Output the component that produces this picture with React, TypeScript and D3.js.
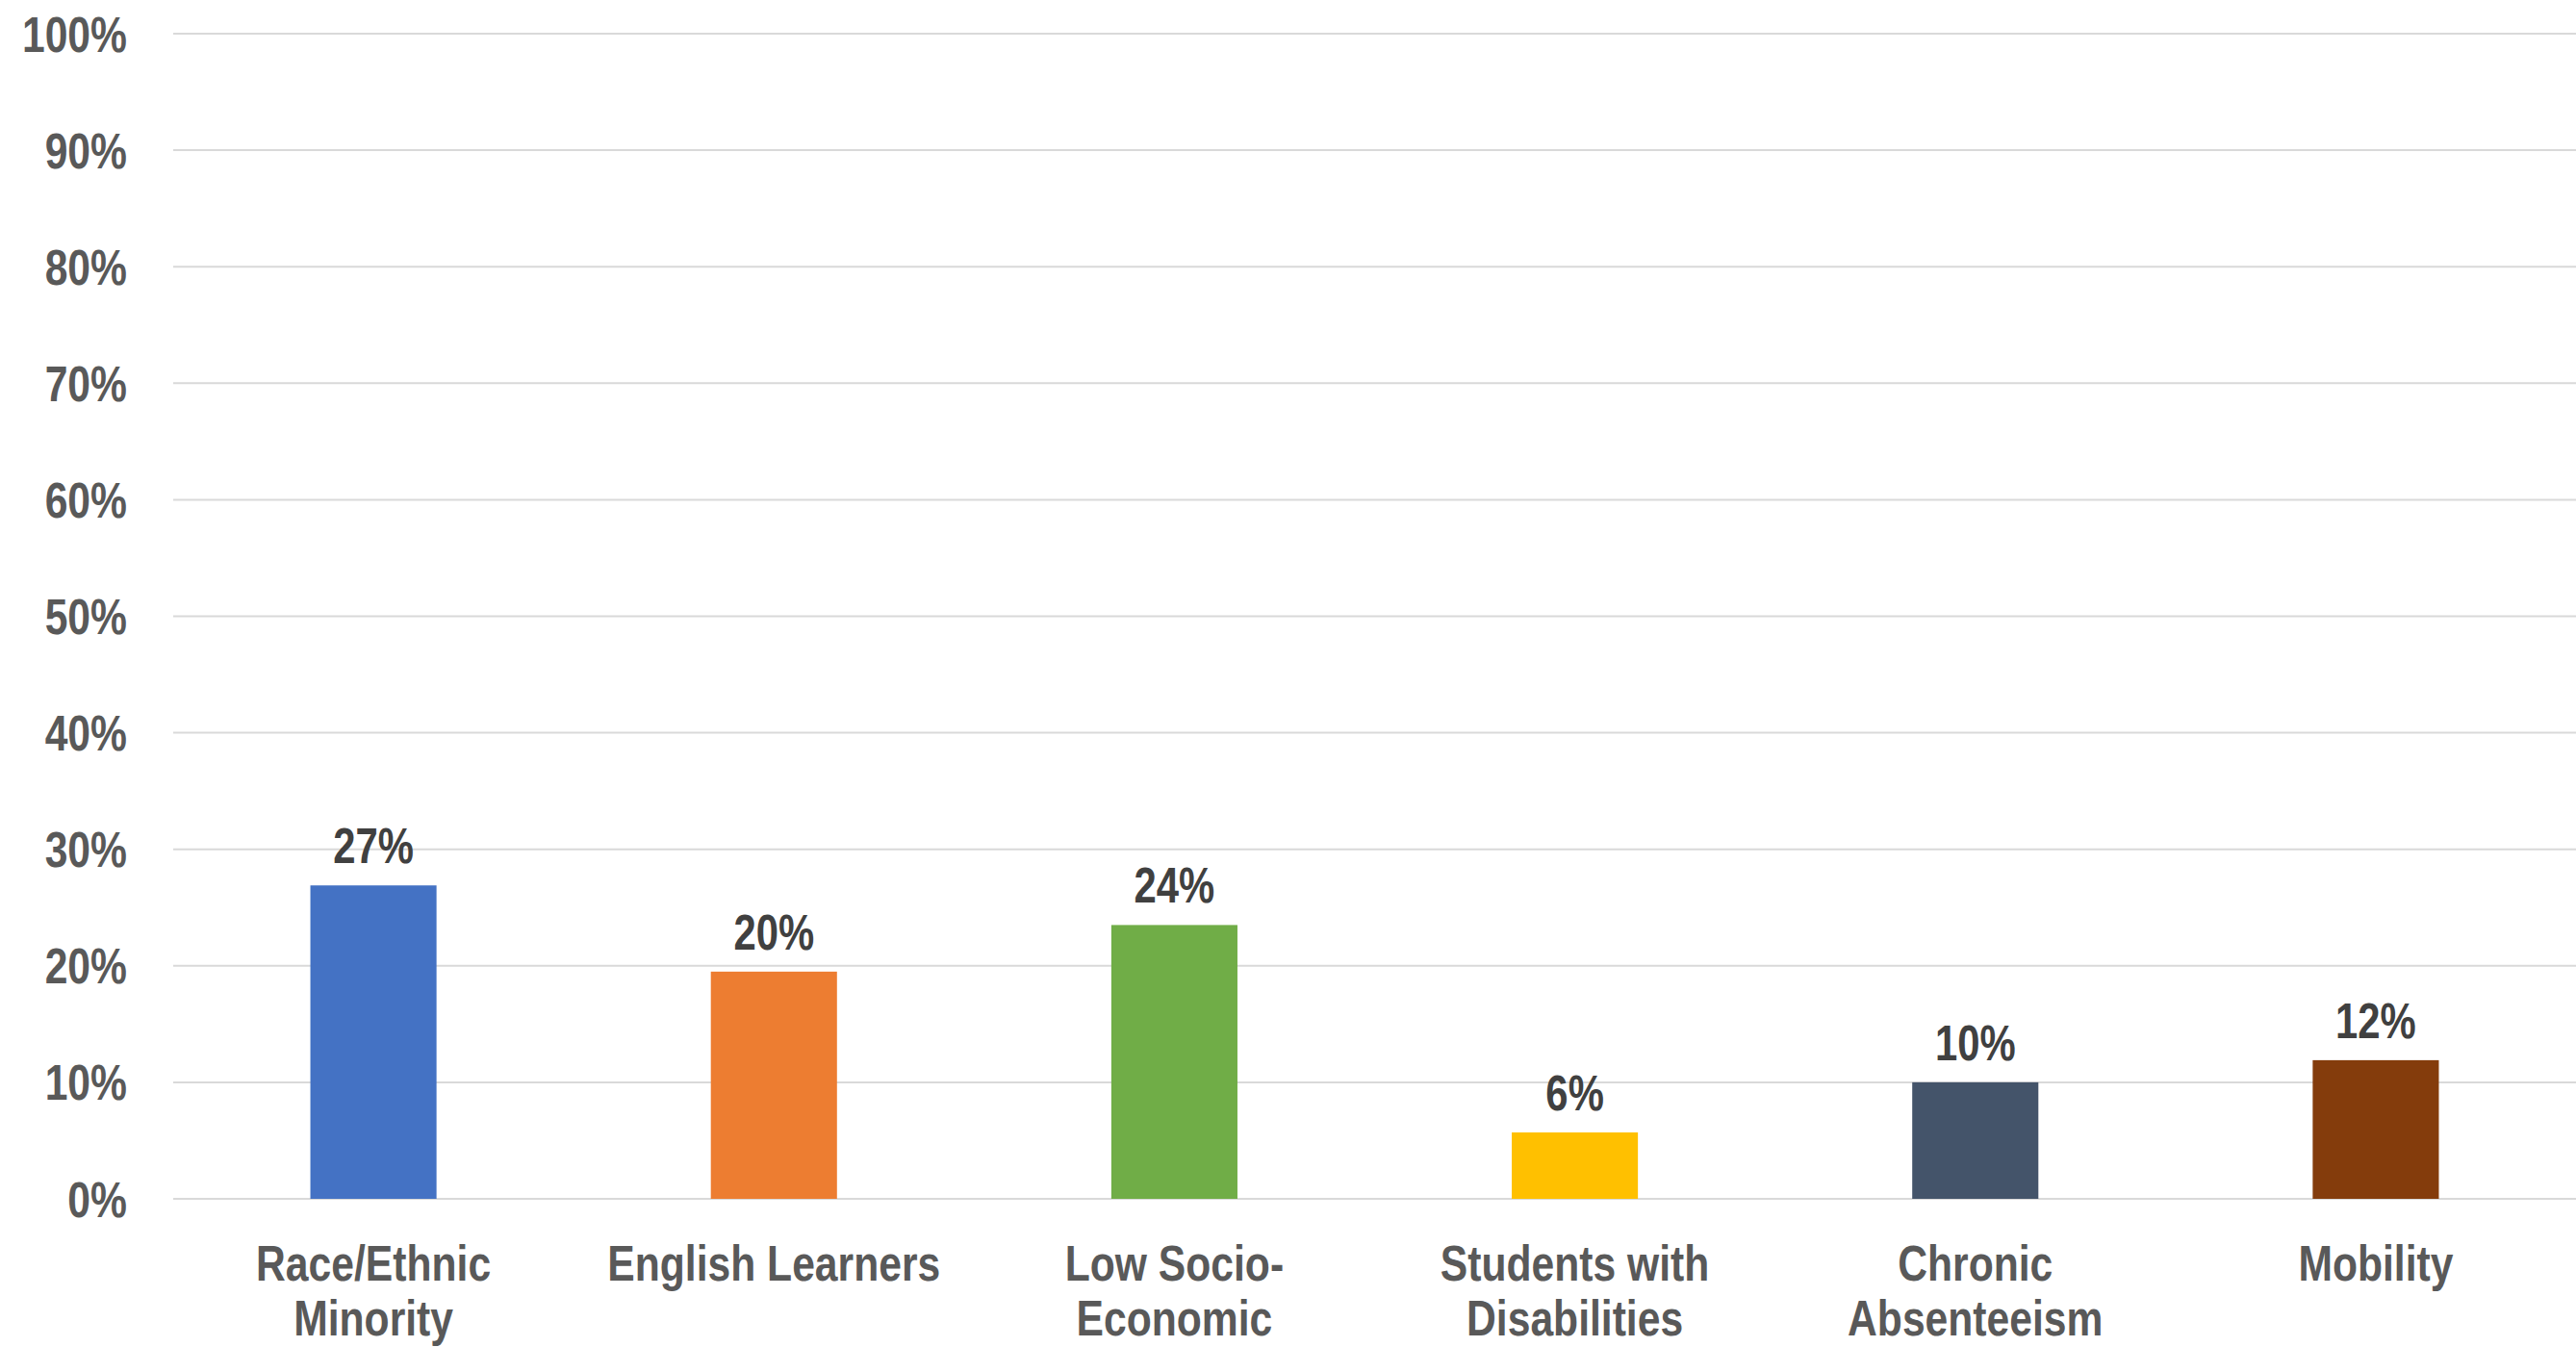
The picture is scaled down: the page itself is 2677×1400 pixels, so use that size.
import React, { useEffect, useRef } from "react";
import * as d3 from "d3";

const categories = [
    "Race/Ethnic Minority",
    "English Learners",
    "Low Socio-Economic",
    "Students with Disabilities",
    "Chronic Absenteeism",
    "Mobility",
];
const categoryLines = [
    ["Race/Ethnic", "Minority"],
    ["English Learners"],
    ["Low Socio-", "Economic"],
    ["Students with", "Disabilities"],
    ["Chronic", "Absenteeism"],
    ["Mobility"],
];
const values = [26.9, 19.5, 23.5, 5.7, 10.0, 11.9];
const colors = ["#4472C4", "#ED7D31", "#70AD47", "#FFC000", "#44546A", "#843C0C"];
const yTicks = [0, 10, 20, 30, 40, 50, 60, 70, 80, 90, 100];

const W = 2677;
const H = 1400;
const FONT = "'Liberation Sans Narrow', 'Arial Narrow', 'Liberation Sans', Arial, sans-serif";
// no narrow face available, so squeeze the regular bold one
const SQUEEZE = 0.82;

const App = () => {
    const ref = useRef<SVGSVGElement>(null);

    useEffect(() => {
        document.body.style.margin = "0";
        if (!ref.current) return;
        const svg = d3.select(ref.current);
        svg.selectAll("*").remove();
        svg.attr("width", W).attr("height", H);

        const left = 180;
        const x = d3
            .scaleBand()
            .domain(categories)
            .range([left, W])
            .paddingInner(0.685)
            .paddingOuter(0.3425);

        const y = d3.scaleLinear().domain([0, 100]).range([1246, 35]);
        const cx = (i: number) => x(categories[i])! + x.bandwidth() / 2;

        // gridlines
        svg.append("g")
            .selectAll("line")
            .data(yTicks)
            .enter()
            .append("line")
            .attr("x1", left)
            .attr("x2", W)
            .attr("y1", (d) => y(d))
            .attr("y2", (d) => y(d))
            .attr("stroke", "#D9D9D9")
            .attr("stroke-width", 2);

        // y tick labels
        svg.append("g")
            .selectAll("text")
            .data(yTicks)
            .enter()
            .append("text")
            .attr("transform", (d) => `translate(132,${y(d) + 18.5}) scale(${SQUEEZE},1)`)
            .attr("text-anchor", "end")
            .attr("font-family", FONT)
            .attr("font-weight", "bold")
            .attr("font-size", 52)
            .attr("fill", "#595959")
            .text((d) => `${d}%`);

        // bars
        svg.append("g")
            .selectAll("rect")
            .data(values)
            .enter()
            .append("rect")
            .attr("x", (_, i) => x(categories[i])!)
            .attr("y", (d) => y(d))
            .attr("width", x.bandwidth())
            .attr("height", (d) => y(0) - y(d))
            .attr("fill", (_, i) => colors[i]);

        // data labels
        svg.append("g")
            .selectAll("text")
            .data(values)
            .enter()
            .append("text")
            .attr("transform", (d, i) => `translate(${cx(i)},${y(d) - 23}) scale(${SQUEEZE},1)`)
            .attr("text-anchor", "middle")
            .attr("font-family", FONT)
            .attr("font-weight", "bold")
            .attr("font-size", 51)
            .attr("fill", "#404040")
            .text((d) => `${Math.round(d)}%`);

        // category labels
        const cat = svg.append("g")
            .selectAll("text")
            .data(categoryLines)
            .enter()
            .append("text")
            .attr("transform", (_, i) => `translate(${cx(i)},1331) scale(${SQUEEZE},1)`)
            .attr("text-anchor", "middle")
            .attr("font-family", FONT)
            .attr("font-weight", "bold")
            .attr("font-size", 52)
            .attr("fill", "#595959");

        cat.selectAll("tspan")
            .data((d) => d)
            .enter()
            .append("tspan")
            .attr("x", 0)
            .attr("y", (_, j) => j * 57.5)
            .text((d) => d);
    }, []);

    return <svg ref={ref} style={{ display: "block", background: "#fff" }} />;
};

export default App;
